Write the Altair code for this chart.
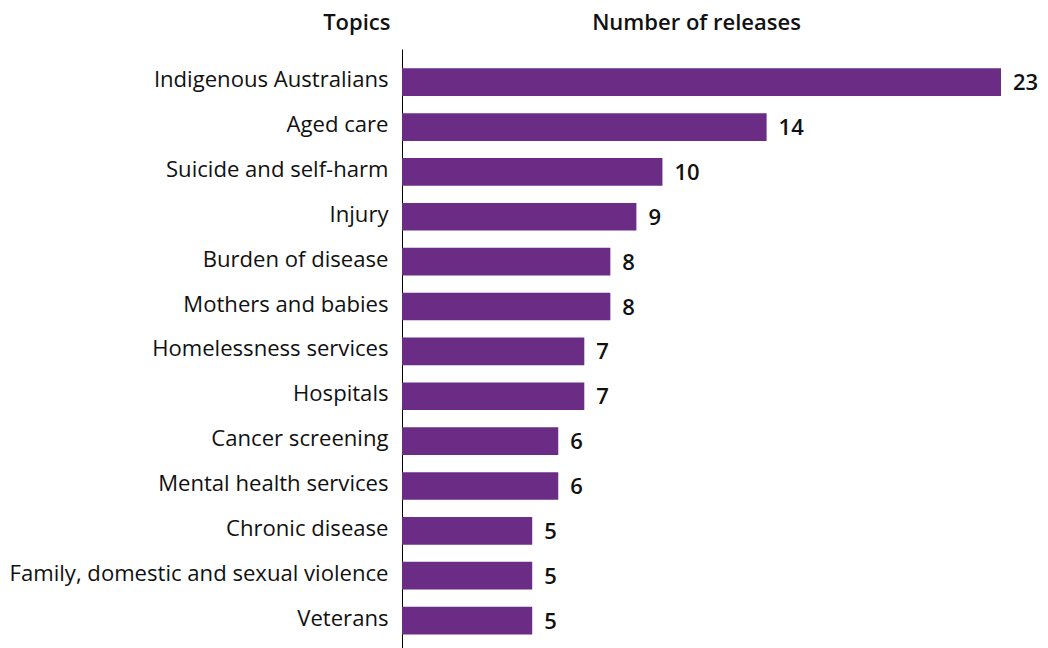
import altair as alt
import pandas as pd

topics = [
    "Indigenous Australians", "Aged care", "Suicide and self-harm", "Injury",
    "Burden of disease", "Mothers and babies", "Homelessness services",
    "Hospitals", "Cancer screening", "Mental health services",
    "Chronic disease", "Family, domestic and sexual violence", "Veterans",
]
releases = [23, 14, 10, 9, 8, 8, 7, 7, 6, 6, 5, 5, 5]

df = pd.DataFrame({"topic": topics, "n": releases})

FONT = "Open Sans"
PURPLE = "#6b2c85"
INK = "#111111"

y_enc = alt.Y(
    "topic:N",
    sort=topics,
    scale=alt.Scale(paddingInner=0.383, paddingOuter=0.378, align=0.57),
    axis=alt.Axis(
        title="Topics", titleAngle=0, titleAlign="right", titleBaseline="middle",
        titleX=-12, titleY=-27, titleFont=FONT, titleFontSize=22, titleFontWeight=600,
        titleColor=INK,
        labelFont=FONT, labelFontSize=22.1, labelColor=INK, labelPadding=14,
        labelLimit=0, labelOffset=-2,
        ticks=False, domain=True, domainColor="#000000", domainWidth=1, grid=False,
    ),
)
x_enc = alt.X(
    "n:Q",
    scale=alt.Scale(domain=[0, 23], nice=False),
    axis=alt.Axis(
        orient="top", title="Number of releases", titleFont=FONT, titleFontSize=22,
        titleFontWeight=600, titleColor=INK, titleX=294, titleY=-27,
        titleBaseline="middle", labels=False, ticks=False, domain=False, grid=False,
    ),
)

bars = alt.Chart(df).mark_bar(color=PURPLE).encode(x=x_enc, y=y_enc)
text = alt.Chart(df).mark_text(
    align="left", baseline="middle", dx=12, dy=1, font=FONT, fontSize=22,
    fontWeight=600, color=INK,
).encode(x="n:Q", y=alt.Y("topic:N", sort=topics), text="n:Q")

chart = (
    (bars + text)
    .properties(
        width=599, height=600,
        autosize=alt.AutoSizeParams(type="none"),
        padding={"left": 402, "top": 49, "right": 47, "bottom": 0},
        background="white",
    )
    .configure_view(stroke=None)
)

chart.save("out.html", embed_options={"renderer": "svg", "actions": False})
